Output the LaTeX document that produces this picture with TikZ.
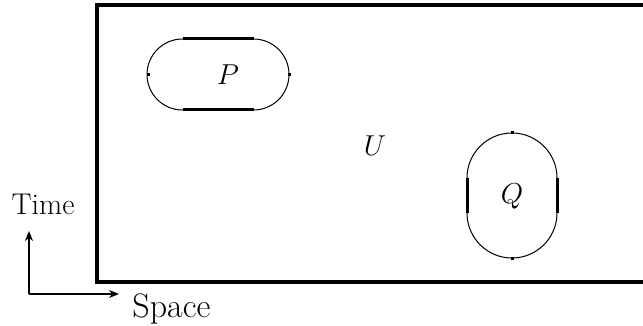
\documentclass[tikz,border=0pt]{standalone}
\usetikzlibrary{arrows.meta}
\begin{document}
\begin{tikzpicture}[x=0.5pt,y=-0.5pt,
  lbl/.style={inner sep=0pt,font=\fontsize{15}{18}\selectfont},
  frame/.style={line width=1.6pt},
  thinarc/.style={line width=0.5pt},
  thickseg/.style={line width=1.5pt},
  axis/.style={line width=1pt,-{Stealth[length=5pt,width=4pt]}}]
\useasboundingbox (0,0) rectangle (643,326);
\begin{scope}
\clip (0,0) rectangle (643,326);
\draw[frame] (650,5) -- (97,5) -- (97,282) -- (650,282);
\end{scope}
% texts
\node[lbl] (P) at (228,75) {$P$};
\node[lbl] (U) at (375,146) {$U$};
\node[lbl] (Q) at (512,196) {$Q$};
\node[lbl] (time) at (43,204) {Time};
\node[lbl,anchor=west] (space) at (132,309) {\fontsize{17}{20}\selectfont Space};
% P stadium (x 148..288, y 39..110)
\draw[thinarc] (182.5,39) arc[start angle=90,end angle=270,radius=17.75pt]
  -- (253.5,110) arc[start angle=-90,end angle=90,radius=17.75pt] -- cycle;
\draw[thickseg] (182.5,39) -- (253.5,39);
\draw[thickseg] (182.5,110) -- (253.5,110);
\draw[thickseg] (148,73) -- (148,76);
\draw[thickseg] (289,73) -- (289,76);
% Q stadium (x 467..557, y 135..256)
\draw[thinarc] (467,178) arc[start angle=180,end angle=0,radius=22.5pt]
  -- (557,213) arc[start angle=0,end angle=-180,radius=22.5pt] -- cycle;
\draw[thickseg] (467,178) -- (467,213);
\draw[thickseg] (557,178) -- (557,213);
\draw[thickseg] (510.5,133) -- (513.5,133);
\draw[thickseg] (510.5,258) -- (513.5,258);
% axes
\coordinate (o) at (29,294);
\coordinate (tup) at (29,231);
\coordinate (sright) at (119,294);
\draw[axis] (o) -- (tup);
\draw[axis] (o) -- (sright);
\end{tikzpicture}
\end{document}
